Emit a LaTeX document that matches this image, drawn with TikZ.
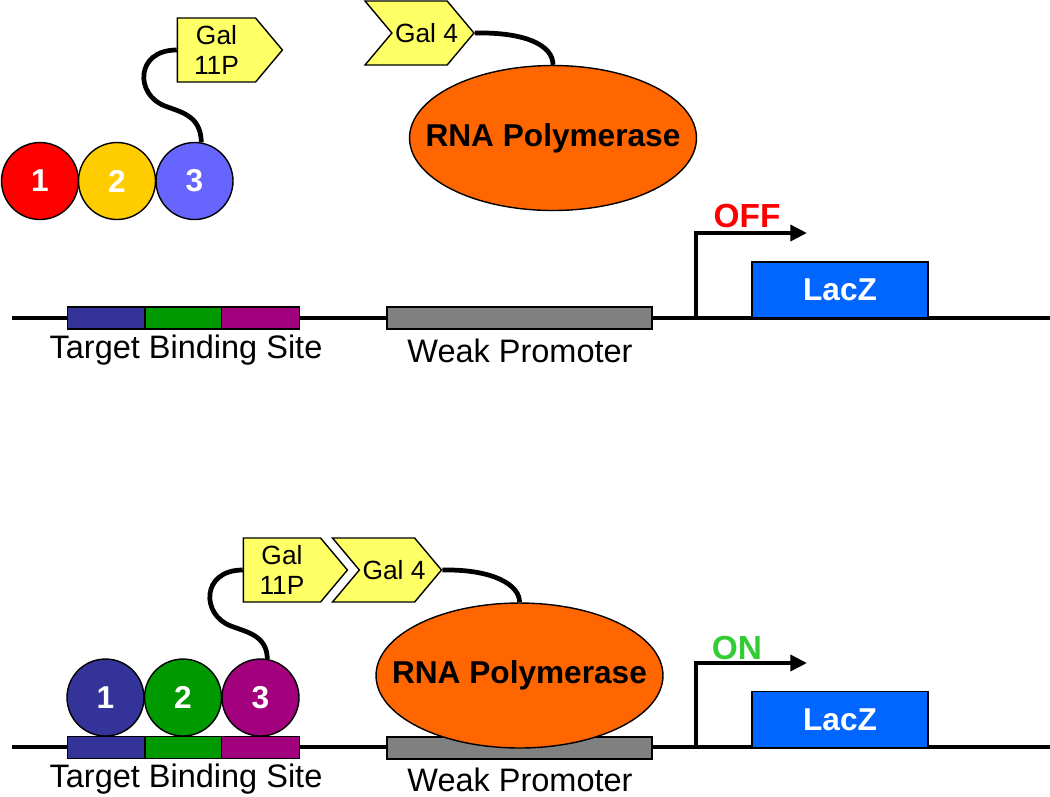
\documentclass[tikz,border=0pt]{standalone}
\usepackage{fontspec}
\setmainfont{Liberation Sans}
\usetikzlibrary{shapes.geometric,shapes.symbols,arrows.meta}

\definecolor{siteA}{RGB}{51,51,153}
\definecolor{siteB}{RGB}{0,153,0}
\definecolor{siteC}{RGB}{163,0,125}
\definecolor{ballA}{RGB}{255,0,0}
\definecolor{ballB}{RGB}{255,204,0}
\definecolor{ballC}{RGB}{102,102,255}
\definecolor{tagyellow}{RGB}{255,255,102}
\definecolor{polorange}{RGB}{255,102,0}
\definecolor{promgray}{RGB}{128,128,128}
\definecolor{lacblue}{RGB}{0,102,255}
\definecolor{ongreen}{RGB}{51,204,51}

\tikzset{
	dna/.style={line width=2.8pt},
	linker/.style={line width=2.7pt},
	part/.style={draw, line width=0.8pt, inner sep=0pt, minimum height=0.44cm},
	ball/.style={circle, draw, line width=0.8pt, inner sep=0pt, minimum size=1.54cm, text=white, font=\fontsize{18}{18}\selectfont\bfseries},
	pol/.style={ellipse, draw, fill=polorange, line width=0.8pt, minimum width=5.74cm, minimum height=2.9cm, inner sep=0pt,
		label={[font=\fontsize{18}{20}\selectfont\bfseries]center:#1}},
	tag/.style={signal, draw, fill=tagyellow, line width=0.8pt, signal pointer angle=100, inner sep=0pt, minimum height=1.28cm, align=center, font=\fontsize{15}{17}\selectfont},
	galfour/.style={tag, signal from=west, signal to=east, minimum width=2.18cm,
		label={[font=\fontsize{15}{17}\selectfont, xshift=0.14cm]center:Gal 4}},
	gene/.style={draw, fill=lacblue, line width=0.8pt, minimum width=3.52cm, minimum height=1.12cm, text=white, font=\fontsize{18}{18}\selectfont\bfseries},
	caption/.style={font=\fontsize{18.5}{20}\selectfont},
	state/.style={font=\fontsize{19}{19}\selectfont\bfseries},
	tss/.style={line width=2.6pt, -{Triangle[length=9.5pt,width=9pt]}}
}

\begin{document}
\begin{tikzpicture}[x=0.02cm, y=-0.02cm]
	\useasboundingbox (0,0) rectangle (1050,796);

	\coordinate (DnaStartA) at (12,318);
	\coordinate (DnaEndA) at (1050,318);
	\coordinate (DnaStartB) at (12,747);
	\coordinate (DnaEndB) at (1050,747);
	\coordinate (TssA) at (696,320);
	\coordinate (TssB) at (696,749);

	% unbound state
	\draw[dna] (DnaStartA) -- (DnaEndA);
	\node[part, fill=siteA, minimum width=1.55cm] (SiteA1) at (106,318) {};
	\node[part, fill=siteB, minimum width=1.54cm] (SiteB1) at (183.5,318) {};
	\node[part, fill=siteC, minimum width=1.55cm] (SiteC1) at (260.5,318) {};
	\node[part, fill=promgray, minimum width=5.3cm] (Prom1) at (519.5,318) {};
	\node[gene] (Lac1) at (840,290) {LacZ};
	\node[caption] (SiteText1) at (186,350) {Target Binding Site};
	\node[caption] (PromText1) at (520,351) {Weak Promoter};

	\node[ball, fill=ballA] (BallA1) at (40,181) {1};
	\node[ball, fill=ballB] (BallB1) at (117,181) {2};
	\node[ball, fill=ballC] (BallC1) at (194.5,181) {3};
	\node[tag, signal to=east, minimum width=2.1cm] (Gal11A) at (216.5,50) {Gal\\11P};
	\draw[linker] (BallC1.80) .. controls (201,115) and (180,112) .. (165,106)
		.. controls (135,95) and (135,50) .. (Gal11A.west);

	\node[pol={RNA Polymerase}] (Pol1) at (553,138) {};
	\node[galfour] (Gal4A) at (419.5,33) {};
	\draw[linker] (Gal4A.east) .. controls (525,32) and (553,45) .. (Pol1.north);

	\draw[tss] (TssA) -- (696,233) -- (807,233);
	\node[state, text=red] (Off) at (747,216) {OFF};

	% bound state
	\draw[dna] (DnaStartB) -- (DnaEndB);
	\node[part, fill=siteA, minimum width=1.55cm] (SiteA2) at (106,747.5) {};
	\node[part, fill=siteB, minimum width=1.54cm] (SiteB2) at (183.5,747.5) {};
	\node[part, fill=siteC, minimum width=1.55cm] (SiteC2) at (260.5,747.5) {};
	\node[part, fill=promgray, minimum width=5.3cm] (Prom2) at (519.5,748) {};
	\node[gene] (Lac2) at (840,719.5) {LacZ};
	\node[caption] (SiteText2) at (186,779) {Target Binding Site};
	\node[caption] (PromText2) at (520,780) {Weak Promoter};

	\node[ball, fill=siteA] (BallA2) at (105.5,697.5) {1};
	\node[ball, fill=siteB] (BallB2) at (183,697.5) {2};
	\node[ball, fill=siteC] (BallC2) at (260.5,697.5) {3};
	\node[pol={RNA Polymerase}] (Pol2) at (519.5,675.5) {};

	\node[galfour] (Gal4B) at (387,570) {};
	\node[tag, signal to=east, minimum width=2.08cm] (Gal11B) at (282,570) {Gal\\11P};
	\draw[linker] (BallC2.80) .. controls (267,635) and (246,632) .. (231,626)
		.. controls (201,615) and (201,570) .. (Gal11B.west);
	\draw[linker] (Gal4B.east) .. controls (493,569) and (520,585) .. (Pol2.north);

	\draw[tss] (TssB) -- (696,663) -- (807,663);
	\node[state, text=ongreen] (On) at (737,648) {ON};
\end{tikzpicture}
\end{document}
